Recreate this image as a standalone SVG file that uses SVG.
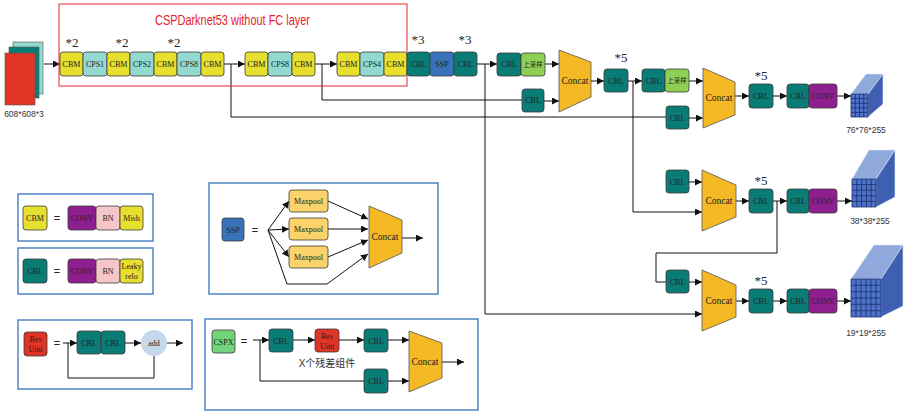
<svg xmlns="http://www.w3.org/2000/svg" width="904" height="413" viewBox="0 0 904 413">
<style>
.blk{stroke:#3a3a3a;stroke-width:0.8}
.cbm{fill:#e6df2e}.cps{fill:#93d9cf}.cbl{fill:#0a7c76}.ssp{fill:#3a72b8}.up{fill:#8fcf55}
.conv{fill:#8f1f8f}.bn{fill:#f6c5c7}.res{fill:#e03526}.cspx{fill:#72d37b}.mp{fill:#fbd36a}
.cat{fill:#f4b925;stroke:#555;stroke-width:0.8}
.t{font-family:"Liberation Serif",serif;font-size:8px;text-anchor:middle;fill:#222}
.tc{font-family:"Noto Sans CJK SC",sans-serif;font-size:6.5px;text-anchor:middle;fill:#222}
.tcat{font-family:"Liberation Serif",serif;font-size:9.5px;text-anchor:middle;fill:#222}
.mul{font-family:"Liberation Serif",serif;font-size:13px;text-anchor:middle;fill:#222}
.lab{font-family:"Liberation Sans",sans-serif;font-size:8.5px;text-anchor:middle;fill:#333}
.eq{font-family:"Liberation Sans",sans-serif;font-size:11px;text-anchor:middle;fill:#222}
.ln{stroke:#111;stroke-width:1;fill:none}
.ar{stroke:#111;stroke-width:1;fill:none;marker-end:url(#a)}
.lg{fill:none;stroke:#4f86c5;stroke-width:1.5}
.grid{stroke:#1c2d6b;stroke-width:0.8;fill:none}
.front{fill:#4d72c8}
.top{fill:#8fa9dc;stroke:#dfe8f5;stroke-width:0.6}
.side{fill:#3f60b0;stroke:#dfe8f5;stroke-width:0.6}
</style>
<defs>
<marker id="a" viewBox="0 0 10 10" refX="10" refY="5" markerWidth="7" markerHeight="7" orient="auto" markerUnits="userSpaceOnUse"><path d="M0,0 L10,5 L0,10 z" fill="#111"/></marker>
</defs>

<!-- connectors -->
<g id="connectors">
<line class="ar" x1="44" y1="64" x2="60" y2="64"/>
<line class="ar" x1="224" y1="64" x2="245" y2="64"/>
<polyline class="ln" points="231,64 231,117 666,117"/>
<line class="ar" x1="315" y1="64" x2="337" y2="64"/>
<polyline class="ln" points="322,64 322,100 522,100"/>
<line class="ar" x1="477" y1="64" x2="497" y2="64"/>
<polyline class="ar" points="485,64 485,314 702,314"/>
<line class="ar" x1="545" y1="64" x2="559" y2="64"/>
<line class="ar" x1="544" y1="101" x2="559" y2="101"/>
<line class="ar" x1="591" y1="81" x2="604" y2="81"/>
<line class="ar" x1="628" y1="81" x2="642" y2="81"/>
<polyline class="ar" points="633,81 633,212 702,212"/>
<line class="ar" x1="689" y1="81" x2="703" y2="81"/>
<line class="ar" x1="689" y1="118" x2="703" y2="118"/>
<line class="ar" x1="735" y1="96" x2="749" y2="96"/>
<line class="ar" x1="773" y1="96" x2="787" y2="96"/>
<line class="ar" x1="837" y1="96" x2="851" y2="96"/>
<line class="ar" x1="689" y1="182" x2="702" y2="182"/>
<line class="ar" x1="736" y1="201" x2="749" y2="201"/>
<line class="ar" x1="773" y1="201" x2="787" y2="201"/>
<polyline class="ln" points="777,201 777,253 656,253 656,282 666,282"/>
<line class="ar" x1="837" y1="201" x2="852" y2="201"/>
<line class="ar" x1="689" y1="282" x2="702" y2="282"/>
<line class="ar" x1="736" y1="301" x2="749" y2="301"/>
<line class="ar" x1="773" y1="301" x2="787" y2="301"/>
<line class="ar" x1="837" y1="301" x2="851" y2="301"/>
<!-- SSP legend -->
<line class="ar" x1="268" y1="230" x2="289" y2="201"/>
<line class="ar" x1="268" y1="230" x2="289" y2="229"/>
<line class="ar" x1="268" y1="230" x2="289" y2="257"/>
<polyline class="ar" points="268,230 287,284 327,284 368,254"/>
<line class="ar" x1="328" y1="201" x2="368" y2="219"/>
<line class="ar" x1="328" y1="229" x2="368" y2="229"/>
<line class="ar" x1="328" y1="257" x2="368" y2="240"/>
<line class="ar" x1="402" y1="238" x2="423" y2="238"/>
<!-- Res legend -->
<line class="ar" x1="63" y1="343" x2="77" y2="343"/>
<line class="ar" x1="125" y1="343" x2="141" y2="343"/>
<line class="ar" x1="167" y1="343" x2="183" y2="343"/>
<polyline class="ln" points="154,356 154,378 68,378 68,343"/>
<!-- CSPX legend -->
<line class="ar" x1="253" y1="340" x2="269" y2="340"/>
<polyline class="ln" points="260,340 260,381 364,381"/>
<line class="ar" x1="293" y1="340" x2="315" y2="340"/>
<line class="ar" x1="339" y1="340" x2="364" y2="340"/>
<line class="ar" x1="388" y1="340" x2="409" y2="340"/>
<line class="ar" x1="388" y1="381" x2="409" y2="381"/>
<line class="ar" x1="442" y1="362" x2="464" y2="362"/>
</g>

<!-- input -->
<g id="input">
<rect x="13" y="42" width="30" height="52" fill="#93d9cf" stroke="#555" stroke-width="0.6"/>
<rect x="9" y="47" width="30" height="51" fill="#0a7c76" stroke="#555" stroke-width="0.6"/>
<rect x="5" y="53" width="30" height="52" fill="#e03526" stroke="#555" stroke-width="0.6"/>
<text class="lab" x="24" y="117">608*608*3</text>
</g>

<!-- backbone frame -->
<g id="backbone">
<rect x="59" y="4" width="348" height="82" fill="none" stroke="#e8232a" stroke-width="1"/>
<text x="155" y="25" font-family="Liberation Sans,sans-serif" font-size="14" fill="#e8232a" textLength="155" lengthAdjust="spacingAndGlyphs">CSPDarknet53 without FC layer</text>
<text class="mul" x="72" y="47">*2</text>
<text class="mul" x="122" y="47">*2</text>
<text class="mul" x="174" y="47">*2</text>
<text class="mul" x="418" y="44">*3</text>
<text class="mul" x="465" y="44">*3</text>
</g>

<g id="row1a">
<rect class="blk cbm" x="60" y="52" width="23" height="24" rx="3"/><text class="t" x="71.5" y="67">CBM</text>
<rect class="blk cps" x="83" y="52" width="24" height="24" rx="3"/><text class="t" x="95" y="67">CPS1</text>
<rect class="blk cbm" x="107" y="52" width="23" height="24" rx="3"/><text class="t" x="118.5" y="67">CBM</text>
<rect class="blk cps" x="130" y="52" width="24" height="24" rx="3"/><text class="t" x="142" y="67">CPS2</text>
<rect class="blk cbm" x="154" y="52" width="23" height="24" rx="3"/><text class="t" x="165.5" y="67">CBM</text>
<rect class="blk cps" x="177" y="52" width="24" height="24" rx="3"/><text class="t" x="189" y="67">CPS8</text>
<rect class="blk cbm" x="201" y="52" width="23" height="24" rx="3"/><text class="t" x="212.5" y="67">CBM</text>
</g>
<g id="row1b">
<rect class="blk cbm" x="245" y="52" width="23" height="24" rx="3"/><text class="t" x="256.5" y="67">CBM</text>
<rect class="blk cps" x="268" y="52" width="24" height="24" rx="3"/><text class="t" x="280" y="67">CPS8</text>
<rect class="blk cbm" x="292" y="52" width="23" height="24" rx="3"/><text class="t" x="303.5" y="67">CBM</text>
</g>
<g id="row1c">
<rect class="blk cbm" x="337" y="52" width="23" height="24" rx="3"/><text class="t" x="348.5" y="67">CBM</text>
<rect class="blk cps" x="360" y="52" width="24" height="24" rx="3"/><text class="t" x="372" y="67">CPS4</text>
<rect class="blk cbm" x="384" y="52" width="23" height="24" rx="3"/><text class="t" x="395.5" y="67">CBM</text>
<rect class="blk cbl" x="407" y="52" width="23" height="24" rx="3"/><text class="t" x="418.5" y="67">CBL</text>
<rect class="blk ssp" x="430" y="52" width="24" height="24" rx="3"/><text class="t" x="442" y="67">SSP</text>
<rect class="blk cbl" x="454" y="52" width="23" height="24" rx="3"/><text class="t" x="465.5" y="67">CBL</text>
</g>

<!-- neck -->
<g id="up1">
<rect class="blk cbl" x="497" y="53" width="24" height="23" rx="3"/><text class="t" x="509" y="67">CBL</text>
<rect class="blk up" x="521" y="53" width="24" height="23" rx="3"/><text class="tc" x="533" y="67">上采样</text>
</g>
<g id="cbl-n1"><rect class="blk cbl" x="522" y="89" width="22" height="23" rx="3"/><text class="t" x="533" y="103">CBL</text></g>
<g id="concat1"><polygon class="cat" points="559,50 591,62 591,97 559,112"/><text class="tcat" x="575" y="84">Concat</text></g>
<g id="cbl5a"><rect class="blk cbl" x="604" y="69" width="24" height="23" rx="3"/><text class="t" x="616" y="83.5">CBL</text><text class="mul" x="621" y="62">*5</text></g>
<g id="up2">
<rect class="blk cbl" x="642" y="69" width="23" height="23" rx="3"/><text class="t" x="653.5" y="83.5">CBL</text>
<rect class="blk up" x="665" y="69" width="24" height="23" rx="3"/><text class="tc" x="677" y="83">上采样</text>
</g>
<g id="cbl-n2"><rect class="blk cbl" x="666" y="106" width="23" height="23" rx="3"/><text class="t" x="677.5" y="120.5">CBL</text></g>
<g id="concat2"><polygon class="cat" points="703,68 735,82 735,115 703,128"/><text class="tcat" x="719" y="101">Concat</text></g>
<g id="head1">
<rect class="blk cbl" x="749" y="84" width="24" height="24" rx="3"/><text class="t" x="761" y="99">CBL</text><text class="mul" x="761" y="80">*5</text>
<rect class="blk cbl" x="787" y="84" width="22" height="24" rx="3"/><text class="t" x="798" y="99">CBL</text>
<rect class="blk conv" x="809" y="84" width="28" height="24" rx="3"/><text class="t" x="823" y="99">CONV</text>
</g>
<g id="cube1">
<polygon class="top" points="851,94 868,94 883,74 866,74"/>
<polygon class="side" points="868,94 883,74 883,104 868,117"/>
<rect class="front" x="851" y="94" width="17" height="23"/>
<path class="grid" d="M851,94h17v23h-17z M855.25,94v23 M859.5,94v23 M863.75,94v23 M851,98.6h17 M851,103.2h17 M851,107.8h17 M851,112.4h17"/>
<text class="lab" x="866" y="133">76*76*255</text>
</g>

<g id="cbl-n3"><rect class="blk cbl" x="666" y="170" width="23" height="23" rx="3"/><text class="t" x="677.5" y="184.5">CBL</text></g>
<g id="concat3"><polygon class="cat" points="702,170 736,185 736,217 702,231"/><text class="tcat" x="719" y="204">Concat</text></g>
<g id="head2">
<rect class="blk cbl" x="749" y="189" width="24" height="24" rx="3"/><text class="t" x="761" y="204">CBL</text><text class="mul" x="761" y="185">*5</text>
<rect class="blk cbl" x="787" y="189" width="22" height="24" rx="3"/><text class="t" x="798" y="204">CBL</text>
<rect class="blk conv" x="809" y="189" width="28" height="24" rx="3"/><text class="t" x="823" y="204">CONV</text>
</g>
<g id="cube2">
<polygon class="top" points="852,179 876,179 895,150 869,150"/>
<polygon class="side" points="876,179 895,150 895,197 876,207"/>
<rect class="front" x="852" y="179" width="24" height="28"/>
<path class="grid" d="M852,179h24v28h-24z M856.8,179v28 M861.6,179v28 M866.4,179v28 M871.2,179v28 M852,184.6h24 M852,190.2h24 M852,195.8h24 M852,201.4h24"/>
<text class="lab" x="870" y="224">38*38*255</text>
</g>

<g id="cbl-n4"><rect class="blk cbl" x="666" y="270" width="23" height="23" rx="3"/><text class="t" x="677.5" y="284.5">CBL</text></g>
<g id="concat4"><polygon class="cat" points="702,270 736,285 736,317 702,331"/><text class="tcat" x="719" y="304">Concat</text></g>
<g id="head3">
<rect class="blk cbl" x="749" y="289" width="24" height="24" rx="3"/><text class="t" x="761" y="304">CBL</text><text class="mul" x="761" y="285">*5</text>
<rect class="blk cbl" x="787" y="289" width="22" height="24" rx="3"/><text class="t" x="798" y="304">CBL</text>
<rect class="blk conv" x="809" y="289" width="28" height="24" rx="3"/><text class="t" x="823" y="304">CONV</text>
</g>
<g id="cube3">
<polygon class="top" points="851,279 881,279 903,245 874,245"/>
<polygon class="side" points="881,279 903,245 903,306 881,317"/>
<rect class="front" x="851" y="279" width="30" height="38"/>
<path class="grid" d="M851,279h30v38h-30z M856,279v38 M861,279v38 M866,279v38 M871,279v38 M876,279v38 M851,285.3h30 M851,291.7h30 M851,298h30 M851,304.3h30 M851,310.7h30"/>
<text class="lab" x="866" y="336">19*19*255</text>
</g>

<!-- legends -->
<g id="legend-cbm">
<rect class="lg" x="18" y="194" width="135" height="47"/>
<rect class="blk cbm" x="23" y="206" width="24" height="24" rx="3"/><text class="t" x="35" y="221">CBM</text>
<text class="eq" x="57" y="222">=</text>
<rect class="blk conv" x="68" y="206" width="28" height="24" rx="3"/><text class="t" x="82" y="221">CONV</text>
<rect class="blk bn" x="96" y="206" width="24" height="24" rx="3"/><text class="t" x="108" y="221">BN</text>
<rect class="blk cbm" x="120" y="206" width="23" height="24" rx="3"/><text class="t" x="131.5" y="221">Mish</text>
</g>
<g id="legend-cbl">
<rect class="lg" x="18" y="248" width="135" height="46"/>
<rect class="blk cbl" x="23" y="259" width="24" height="24" rx="3"/><text class="t" x="35" y="274">CBL</text>
<text class="eq" x="57" y="275">=</text>
<rect class="blk conv" x="68" y="259" width="28" height="24" rx="3"/><text class="t" x="82" y="274">CONV</text>
<rect class="blk bn" x="96" y="259" width="24" height="24" rx="3"/><text class="t" x="108" y="274">BN</text>
<rect class="blk cbm" x="120" y="259" width="23" height="24" rx="3"/><text class="t" x="131.5" y="269">Leaky</text><text class="t" x="131.5" y="279">relo</text>
</g>
<g id="legend-ssp">
<rect class="lg" x="209" y="183" width="229" height="111"/>
<rect class="blk ssp" x="222" y="218" width="22" height="23" rx="3"/><text class="t" x="233" y="232.5">SSP</text>
<text class="eq" x="255" y="234">=</text>
<rect class="blk mp" x="289" y="190" width="39" height="22" rx="3"/><text class="t" x="308.5" y="204">Maxpool</text>
<rect class="blk mp" x="289" y="218" width="39" height="22" rx="3"/><text class="t" x="308.5" y="232">Maxpool</text>
<rect class="blk mp" x="289" y="246" width="39" height="22" rx="3"/><text class="t" x="308.5" y="260">Maxpool</text>
<polygon class="cat" points="369,206 402,220 402,253 369,268"/><text class="tcat" x="385" y="240">Concat</text>
</g>
<g id="legend-res">
<rect class="lg" x="18" y="320" width="174" height="69"/>
<rect class="blk res" x="24" y="332" width="23" height="24" rx="3"/><text class="t" x="35.5" y="342">Res</text><text class="t" x="35.5" y="352">Uint</text>
<text class="eq" x="57" y="347">=</text>
<rect class="blk cbl" x="77" y="331" width="24" height="23" rx="3"/><text class="t" x="89" y="345.5">CBL</text>
<rect class="blk cbl" x="101" y="331" width="24" height="23" rx="3"/><text class="t" x="113" y="345.5">CBL</text>
<circle cx="154" cy="343" r="13" fill="#c5d8ea"/><text class="t" x="154" y="346">add</text>
</g>
<g id="legend-cspx">
<rect class="lg" x="205" y="319" width="273" height="91"/>
<rect class="blk cspx" x="212" y="330" width="23" height="23" rx="3"/><text class="t" x="223.5" y="344.5">CSPX</text>
<text class="eq" x="244" y="345">=</text>
<rect class="blk cbl" x="269" y="329" width="24" height="23" rx="3"/><text class="t" x="281" y="343.5">CBL</text>
<rect class="blk res" x="315" y="329" width="24" height="23" rx="3"/><text class="t" x="327" y="339">Res</text><text class="t" x="327" y="349">Uint</text>
<rect class="blk cbl" x="364" y="329" width="24" height="23" rx="3"/><text class="t" x="376" y="343.5">CBL</text>
<text x="327" y="367" font-family="Liberation Sans,Noto Sans CJK SC,sans-serif" font-size="10" text-anchor="middle" fill="#333">X个残差组件</text>
<rect class="blk cbl" x="364" y="369" width="24" height="24" rx="3"/><text class="t" x="376" y="384">CBL</text>
<polygon class="cat" points="409,331 442,343 442,378 409,392"/><text class="tcat" x="425" y="365">Concat</text>
</g>
</svg>
